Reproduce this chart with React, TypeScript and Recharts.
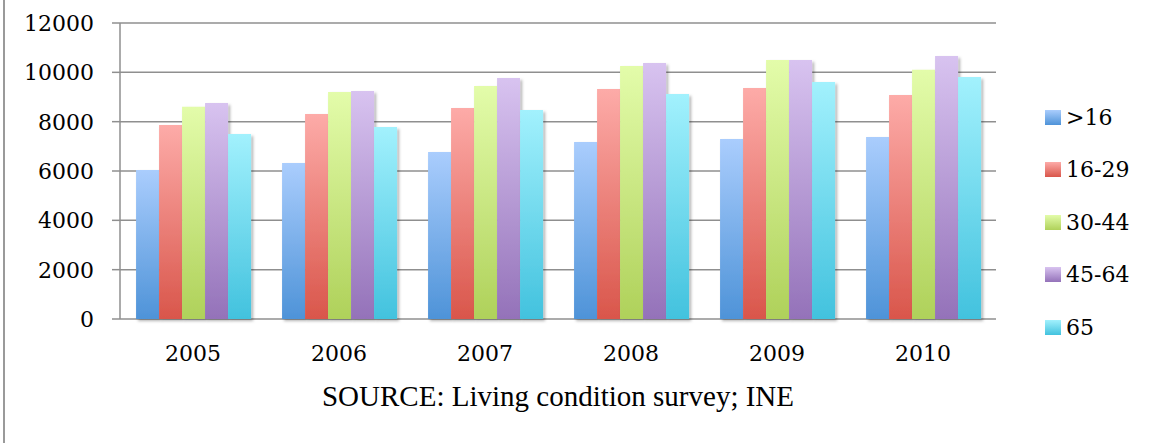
import { Bar, BarChart, CartesianGrid, Legend, XAxis, YAxis } from "recharts";

const years = ["2005", "2006", "2007", "2008", "2009", "2010"];
const under16 = [6040, 6320, 6770, 7180, 7300, 7380];
const age16to29 = [7860, 8310, 8550, 9320, 9360, 9080];
const age30to44 = [8600, 9200, 9450, 10260, 10500, 10100];
const age45to64 = [8760, 9240, 9770, 10380, 10500, 10660];
const age65 = [7500, 7780, 8470, 9120, 9610, 9810];
const yTicks = [0, 2000, 4000, 6000, 8000, 10000, 12000];
const edgeTicks = [0, 1, 2, 3, 4, 5, 6];

const series = [
  { key: "s1", name: ">16", values: under16, top: "#aacdfd", bottom: "#4e93d8" },
  { key: "s2", name: "16-29", values: age16to29, top: "#fdaba8", bottom: "#d9564b" },
  { key: "s3", name: "30-44", values: age30to44, top: "#e3fcaa", bottom: "#afd15a" },
  { key: "s4", name: "45-64", values: age45to64, top: "#d8c3f0", bottom: "#9472b9" },
  { key: "s5", name: "65", values: age65, top: "#a2f1fd", bottom: "#42c2de" },
];

const data = years.map((year, i) => {
  const row: any = { year };
  series.forEach((s) => (row[s.key] = s.values[i]));
  return row;
});

const grey = "#8f8f8f";
const tickStyle = { fontFamily: "DejaVu Serif", fontSize: "22px", fill: "#000" };

const YTick = (props: any) => {
  const { x, y, payload } = props;
  return (
    <text x={x} y={y} dy={8} textAnchor="end" style={tickStyle}>
      {payload.value}
    </text>
  );
};

const XTick = (props: any) => {
  const { x, y, payload } = props;
  return (
    <text x={x} y={y} dy={16} textAnchor="middle" style={tickStyle}>
      {payload.value}
    </text>
  );
};

const renderLegend = () => (
  <div>
    {series.map((s) => (
      <div
        key={s.key}
        style={{ display: "flex", alignItems: "center", height: 52.5 }}
      >
        <div
          style={{
            width: 16,
            height: 15,
            marginRight: 5,
            background: `linear-gradient(${s.top}, ${s.bottom})`,
          }}
        />
        <span
          style={{ fontFamily: "DejaVu Serif", fontSize: 22, color: "#000" }}
        >
          {s.name}
        </span>
      </div>
    ))}
  </div>
);

export default function App() {
  return (
    <div
      style={{
        position: "absolute",
        left: 0,
        top: 0,
        width: 1166,
        height: 443,
        background: "#fff",
      }}
    >
      <div
        style={{
          position: "absolute",
          left: 3,
          top: 0,
          width: 1.5,
          height: 443,
          background: "#9a9a9a",
        }}
      />
      <BarChart
        width={1166}
        height={443}
        data={data}
        margin={{ top: 23, right: 170, bottom: 84, left: 0 }}
        barCategoryGap="11%"
        barGap={0}
      >
        <defs>
          {series.map((s) => (
            <linearGradient key={s.key} id={`g-${s.key}`} x1="0" y1="0" x2="0" y2="1">
              <stop offset="0%" stopColor={s.top} />
              <stop offset="100%" stopColor={s.bottom} />
            </linearGradient>
          ))}
          <filter id="shadow" x="-20%" y="-5%" width="150%" height="115%">
            <feDropShadow dx="2" dy="2" stdDeviation="1.8" floodColor="#000" floodOpacity="0.3" />
          </filter>
        </defs>
        <CartesianGrid vertical={false} stroke={grey} strokeWidth={1.5} />
        <XAxis
          xAxisId="edges"
          type="number"
          domain={[0, 6]}
          ticks={edgeTicks}
          height={0}
          tickSize={8}
          tickFormatter={() => ""}
          stroke={grey}
          strokeWidth={1.5}
          tickLine={{ stroke: grey, strokeWidth: 1.5 }}
        />
        <XAxis
          dataKey="year"
          height={40}
          axisLine={false}
          tickLine={false}
          tickSize={8}
          tickMargin={18}
          tick={<XTick />}
        />
        <YAxis
          width={120}
          domain={[0, 12000]}
          ticks={yTicks}
          interval={0}
          tickSize={8}
          tickMargin={18}
          tick={<YTick />}
          stroke={grey}
          strokeWidth={1.5}
          tickLine={{ stroke: grey, strokeWidth: 1.5 }}
        />
        <Legend
          layout="vertical"
          align="center"
          verticalAlign="middle"
          content={renderLegend}
          wrapperStyle={{ left: 1045, top: 91, width: 120 }}
        />
        {series.map((s) => (
          <Bar
            key={s.key}
            dataKey={s.key}
            name={s.name}
            fill={`url(#g-${s.key})`}
            style={{ filter: "url(#shadow)" }}
            isAnimationActive={false}
          />
        ))}
      </BarChart>
      <div
        style={{
          position: "absolute",
          left: 258,
          top: 382,
          width: 600,
          textAlign: "center",
          fontFamily: "Liberation Serif",
          fontSize: 29,
          lineHeight: "29px",
          color: "#000",
        }}
      >
        SOURCE: Living condition survey; INE
      </div>
    </div>
  );
}
